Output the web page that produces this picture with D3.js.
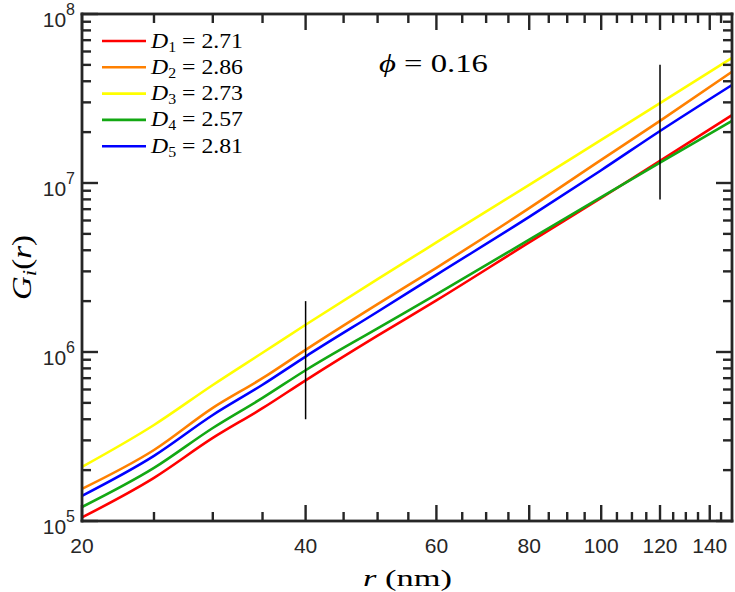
<!DOCTYPE html>
<html>
<head>
<meta charset="utf-8">
<script src="https://cdn.jsdelivr.net/npm/d3@7"></script>
<style>
  body { margin: 0; background: #fff; }
  svg { display: block; }
</style>
</head>
<body>
<div id="chart"></div>
<script>
// radial distance r (nm)
const radius = [20, 25, 30, 35, 40, 50, 60, 80, 100, 120, 150];

// G_i(r) for each D_i
const gD1 = [1.05e5, 1.80e5, 3.10e5, 4.65e5, 6.8e5, 1.25e6, 2.02e6, 4.45e6, 8.15e6, 1.35e7, 2.52e7];
const gD2 = [1.55e5, 2.63e5, 4.67e5, 7.0e5, 1.03e6, 1.92e6, 3.15e6, 7.1e6, 1.37e7, 2.33e7, 4.55e7];
const gD3 = [2.09e5, 3.70e5, 6.38e5, 9.9e5, 1.45e6, 2.70e6, 4.45e6, 9.75e6, 1.80e7, 2.97e7, 5.5e7];
const gD4 = [1.21e5, 2.06e5, 3.55e5, 5.35e5, 7.8e5, 1.38e6, 2.19e6, 4.62e6, 8.25e6, 1.32e7, 2.33e7];
const gD5 = [1.41e5, 2.43e5, 4.24e5, 6.4e5, 9.4e5, 1.73e6, 2.86e6, 6.3e6, 1.19e7, 2.03e7, 3.8e7];

const seriesIndex = [1, 2, 3, 4, 5];
const dimensions = ['2.71', '2.86', '2.73', '2.57', '2.81'];
const colors = ['#ff0000', '#ff8000', '#ffff00', '#13a813', '#0000ff'];

// black vertical marks
const markR = [40, 120];
const markLow = [4e5, 8e6];
const markHigh = [2e6, 5e7];

const xMajorTicks = [20, 40, 60, 80, 100, 120, 140];
const yMajorTicks = [1e5, 1e6, 1e7, 1e8];
const phiLabel = '0.16';

// Plot box in page coordinates
const W = 735, H = 592;
const boxL = 82, boxT = 14, boxR = 732, boxB = 521;

const sansFont = "'Liberation Sans', Arial, sans-serif";
const serifFont = "'Liberation Serif', 'Times New Roman', serif";

const svg = d3.select('#chart').append('svg')
  .attr('width', W)
  .attr('height', H);

const x = d3.scaleLog().domain([20, 150]).range([boxL, boxR]);
const y = d3.scaleLog().domain([1e5, 1e8]).range([boxB, boxT]);

const xMinorTicks = d3.range(25, 150, 5).filter(v => !xMajorTicks.includes(v));
const yMinorTicks = [];
[1e5, 1e6, 1e7].forEach(dec => {
  for (let k = 2; k <= 9; k++) yMinorTicks.push(k * dec);
});

const majorLen = 16, minorLen = 9;
const tickW = 2.4, frameW = 2.8;
const axisColor = '#262626';

// Data lines
const series = [gD1, gD2, gD3, gD4, gD5];
const seriesLine = d3.line()
  .x((d, i) => Math.min(x(radius[i]), boxR))
  .y(d => y(d))
  .curve(d3.curveMonotoneX);

svg.append('g')
  .selectAll('path')
  .data(series)
  .enter().append('path')
  .attr('d', seriesLine)
  .attr('fill', 'none')
  .attr('stroke', (d, i) => colors[i])
  .attr('stroke-width', 2.6);

// Vertical marks
svg.append('g').selectAll('line')
  .data(markR)
  .enter().append('line')
  .attr('x1', d => x(d)).attr('x2', d => x(d))
  .attr('y1', (d, i) => y(markLow[i]))
  .attr('y2', (d, i) => y(markHigh[i]))
  .attr('stroke', '#000')
  .attr('stroke-width', 1.5);

// Ticks as small filled rects, inward on all four sides
const tickLayer = svg.append('g').attr('fill', axisColor);
const xTickData = xMajorTicks.map(v => ({ v, len: majorLen }))
  .concat(xMinorTicks.map(v => ({ v, len: minorLen })));
const yTickData = yMajorTicks.map(v => ({ v, len: majorLen }))
  .concat(yMinorTicks.map(v => ({ v, len: minorLen })));

tickLayer.selectAll('.xt-bottom')
  .data(xTickData).enter().append('rect')
  .attr('class', 'xt-bottom')
  .attr('x', d => x(d.v) - tickW / 2).attr('y', d => boxB - d.len)
  .attr('width', tickW).attr('height', d => d.len);
tickLayer.selectAll('.xt-top')
  .data(xTickData).enter().append('rect')
  .attr('class', 'xt-top')
  .attr('x', d => x(d.v) - tickW / 2).attr('y', boxT)
  .attr('width', tickW).attr('height', d => d.len);
tickLayer.selectAll('.yt-left')
  .data(yTickData).enter().append('rect')
  .attr('class', 'yt-left')
  .attr('x', boxL).attr('y', d => y(d.v) - tickW / 2)
  .attr('width', d => d.len).attr('height', tickW);
tickLayer.selectAll('.yt-right')
  .data(yTickData).enter().append('rect')
  .attr('class', 'yt-right')
  .attr('x', d => boxR - d.len).attr('y', d => y(d.v) - tickW / 2)
  .attr('width', d => d.len).attr('height', tickW);

// Frame as four filled bars
const frameBars = [
  { x: boxL - frameW / 2, y: boxT - frameW / 2, w: boxR - boxL + frameW, h: frameW },
  { x: boxL - frameW / 2, y: boxB - frameW / 2, w: boxR - boxL + frameW, h: frameW },
  { x: boxL - frameW / 2, y: boxT - frameW / 2, w: frameW, h: boxB - boxT + frameW },
  { x: boxR - frameW / 2, y: boxT - frameW / 2, w: frameW, h: boxB - boxT + frameW }
];
tickLayer.selectAll('.frame')
  .data(frameBars).enter().append('rect')
  .attr('class', 'frame')
  .attr('x', d => d.x).attr('y', d => d.y)
  .attr('width', d => d.w).attr('height', d => d.h);

// X tick labels
svg.append('g').selectAll('text')
  .data(xMajorTicks)
  .enter().append('text')
  .attr('x', d => x(d))
  .attr('y', boxB + 32)
  .attr('text-anchor', 'middle')
  .attr('fill', axisColor)
  .style('font-family', sansFont)
  .style('font-size', '21px')
  .text(d => d);

// Y tick labels as 10^k
const yLabels = svg.append('g').selectAll('text')
  .data(yMajorTicks)
  .enter().append('text')
  .attr('x', boxL - 7)
  .attr('y', d => y(d) + 13)
  .attr('text-anchor', 'end')
  .attr('fill', axisColor)
  .style('font-family', sansFont)
  .style('font-size', '21px');
yLabels.append('tspan').text('10');
yLabels.append('tspan')
  .attr('dy', -12)
  .style('font-size', '16px')
  .text(d => Math.round(Math.log10(d)));

// Axis titles
svg.append('text')
  .attr('x', 363).attr('y', 586)
  .attr('textLength', 89)
  .attr('lengthAdjust', 'spacingAndGlyphs')
  .style('font-family', serifFont)
  .style('font-size', '23px')
  .call(t => {
    t.append('tspan').style('font-style', 'italic').text('r');
    t.append('tspan').text(' (nm)');
  });

svg.append('text')
  .attr('transform', 'translate(31,300) rotate(-90)')
  .attr('textLength', 65)
  .attr('lengthAdjust', 'spacingAndGlyphs')
  .style('font-family', serifFont)
  .style('font-size', '27px')
  .call(t => {
    t.append('tspan').style('font-style', 'italic').text('G');
    t.append('tspan').style('font-style', 'italic').style('font-size', '19px').attr('dy', 5).text('i');
    t.append('tspan').attr('dy', -5).text('(');
    t.append('tspan').style('font-style', 'italic').text('r');
    t.append('tspan').text(')');
  });

// phi annotation
svg.append('text')
  .attr('x', 379).attr('y', 72)
  .attr('textLength', 109)
  .attr('lengthAdjust', 'spacingAndGlyphs')
  .style('font-family', serifFont)
  .style('font-size', '25px')
  .call(t => {
    t.append('tspan').style('font-style', 'italic').text('\u03d5');
    t.append('tspan').text(' = ' + phiLabel);
  });

// Legend
const legend = svg.append('g');
const rowY = i => 41 + i * 26.3;
seriesIndex.forEach((idx, i) => {
  legend.append('line')
    .attr('x1', 102).attr('x2', 146)
    .attr('y1', rowY(i)).attr('y2', rowY(i))
    .attr('stroke', colors[i])
    .attr('stroke-width', 2.6);
  legend.append('text')
    .attr('x', 151).attr('y', rowY(i) + 6.5)
    .attr('textLength', 92)
    .attr('lengthAdjust', 'spacingAndGlyphs')
    .style('font-family', serifFont)
    .style('font-size', '21px')
    .call(t => {
      t.append('tspan').style('font-style', 'italic').text('D');
      t.append('tspan').style('font-size', '14px').attr('dy', 4).text(idx);
      t.append('tspan').attr('dy', -4).text(' = ' + dimensions[i]);
    });
});
</script>
</body>
</html>
